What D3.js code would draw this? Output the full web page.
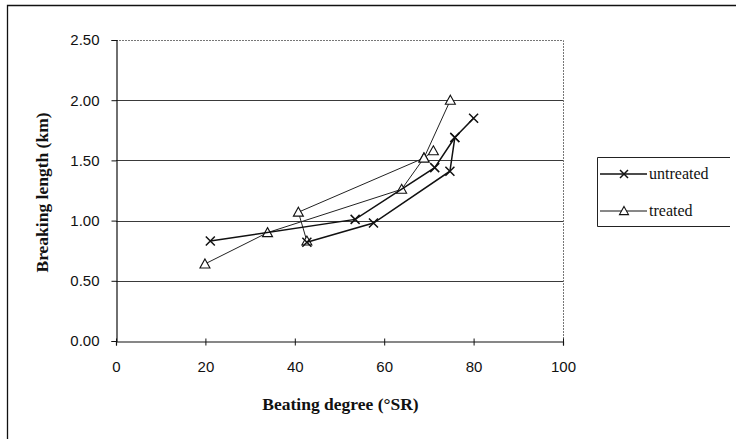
<!DOCTYPE html>
<html>
<head>
<meta charset="utf-8">
<script src="https://cdn.jsdelivr.net/npm/d3@7"></script>
<style>
  html, body { margin: 0; padding: 0; background: #fff; }
  svg { display: block; }
</style>
</head>
<body>
<svg id="chart" width="736" height="439"></svg>
<script>
// ---- data ----
const xTicks = [0, 20, 40, 60, 80, 100];
const yTicks = [0, 0.5, 1.0, 1.5, 2.0, 2.5];
const seriesNames = ["untreated", "treated"];

// untreated: two connected runs
const untreatedX1 = [21.1, 53.5, 71.3, 75.8, 80.0];
const untreatedY1 = [0.83, 1.01, 1.44, 1.69, 1.85];
const untreatedX2 = [42.7, 57.6, 74.7, 75.8];
const untreatedY2 = [0.82, 0.98, 1.41, 1.69];

// treated: two connected runs
const treatedX1 = [19.9, 33.9, 63.9, 68.9, 74.8];
const treatedY1 = [0.64, 0.90, 1.26, 1.52, 2.00];
const treatedX2 = [42.7, 40.8, 68.9, 71.0];
const treatedY2 = [0.83, 1.07, 1.52, 1.58];

// ---- drawing ----
const svg = d3.select("#chart");
const W = 736, H = 439;
const plot = {left: 116, right: 563, top: 40, bottom: 341};

const x = d3.scaleLinear().domain([0, 100]).range([plot.left, plot.right]);
const y = d3.scaleLinear().domain([0, 2.5]).range([plot.bottom, plot.top]);

// outer chart border (right/bottom edges are cropped in the picture)
svg.append("path")
  .attr("d", `M7.5,${H + 2} L7.5,5.5 L${W + 2},5.5`)
  .attr("fill", "none").attr("stroke", "#111").attr("stroke-width", 1.3);

// gridlines
svg.append("g").selectAll("line")
  .data(yTicks.filter(d => d > 0 && d < 2.5))
  .join("line")
  .attr("x1", plot.left).attr("x2", plot.right)
  .attr("y1", d => Math.round(y(d)) + 0.5).attr("y2", d => Math.round(y(d)) + 0.5)
  .attr("stroke", "#3a3a3a").attr("stroke-width", 1.1);

// plot area top / right border (dotted)
svg.append("path")
  .attr("d", `M${plot.left},${Math.round(y(2.5)) + 0.5} L${plot.right + 0.5},${Math.round(y(2.5)) + 0.5} L${plot.right + 0.5},${plot.bottom}`)
  .attr("fill", "none").attr("stroke", "#777").attr("stroke-width", 1)
  .attr("stroke-dasharray", "2,1");

// axes
const yAxis = d3.axisLeft(y).tickValues(yTicks).tickFormat(d3.format(".2f")).tickSize(5).tickPadding(12);
const gy = svg.append("g").attr("transform", `translate(${plot.left + 0.5},0)`).call(yAxis);
const xAxis = d3.axisBottom(x).tickValues(xTicks).tickFormat(d3.format("d")).tickSize(4).tickPadding(16);
const gx = svg.append("g").attr("transform", `translate(0,${plot.bottom + 0.5})`).call(xAxis);

[gx, gy].forEach(g => {
  g.select(".domain").attr("stroke", "#111").attr("stroke-width", 1.2);
  g.selectAll(".tick line").attr("stroke", "#111");
  g.selectAll(".tick text").attr("fill", "#111")
    .style("font-family", "'Liberation Sans', Arial, sans-serif").style("font-size", "15px");
});
gx.selectAll(".tick line").attr("y1", -3);

// axis titles
svg.append("text")
  .attr("x", (plot.left + plot.right) / 2 + 1).attr("y", 410)
  .attr("text-anchor", "middle")
  .style("font-family", "'Liberation Serif', 'Times New Roman', serif")
  .style("font-weight", "bold").style("font-size", "17.5px").attr("fill", "#111")
  .text("Beating degree (°SR)");

svg.append("text")
  .attr("transform", `translate(48,${(plot.top + plot.bottom) / 2 + 2}) rotate(-90)`)
  .attr("text-anchor", "middle")
  .style("font-family", "'Liberation Serif', 'Times New Roman', serif")
  .style("font-weight", "bold").style("font-size", "17.5px").attr("fill", "#111")
  .text("Breaking length (km)");

// line + markers
const line = d3.line().x(d => x(d[0])).y(d => y(d[1]));
const zip = (xs, ys) => xs.map((v, i) => [v, ys[i]]);

const untreatedRuns = [zip(untreatedX1, untreatedY1), zip(untreatedX2, untreatedY2)];
const treatedRuns = [zip(treatedX1, treatedY1), zip(treatedX2, treatedY2)];

const crossPath = s => `M${-s},${-s}L${s},${s}M${-s},${s}L${s},${-s}`;
const triPath = s => `M0,${-s}L${s},${s * 0.8}L${-s},${s * 0.8}Z`;

function drawRuns(runs, opts) {
  const g = svg.append("g");
  g.selectAll("path.ln").data(runs).join("path")
    .attr("class", "ln").attr("d", line)
    .attr("fill", "none").attr("stroke", opts.color).attr("stroke-width", opts.width);
  const pts = runs.flat();
  g.selectAll("path.mk").data(pts).join("path")
    .attr("class", "mk")
    .attr("transform", d => `translate(${x(d[0])},${y(d[1])})`)
    .attr("d", opts.marker)
    .attr("fill", opts.fill).attr("stroke", "#111").attr("stroke-width", opts.mw);
}

drawRuns(treatedRuns, {color: "#222", width: 1, marker: triPath(5), fill: "#fff", mw: 1.1});
drawRuns(untreatedRuns, {color: "#111", width: 1.5, marker: crossPath(4.5), fill: "none", mw: 1.5});

// legend
const lg = svg.append("g");
lg.append("path")
  .attr("d", `M597.5,226.5 L597.5,157.5 L730,157.5 M597.5,226.5 L730,226.5`)
  .attr("fill", "none").attr("stroke", "#222").attr("stroke-width", 1);
const legendRows = [
  {name: seriesNames[0], y: 174, marker: crossPath(4), fill: "none", width: 1.5, mw: 1.5},
  {name: seriesNames[1], y: 211, marker: triPath(4.5), fill: "#fff", width: 1, mw: 1.1}
];
legendRows.forEach(r => {
  lg.append("line").attr("x1", 600).attr("x2", 647).attr("y1", r.y).attr("y2", r.y)
    .attr("stroke", "#111").attr("stroke-width", r.width);
  lg.append("path").attr("transform", `translate(624,${r.y})`).attr("d", r.marker)
    .attr("fill", r.fill).attr("stroke", "#111").attr("stroke-width", r.mw);
  lg.append("text").attr("x", 649).attr("y", r.y + 5)
    .style("font-family", "'Liberation Serif', 'Times New Roman', serif")
    .style("font-size", "16px").attr("fill", "#111")
    .text(r.name);
});
</script>
</body>
</html>
